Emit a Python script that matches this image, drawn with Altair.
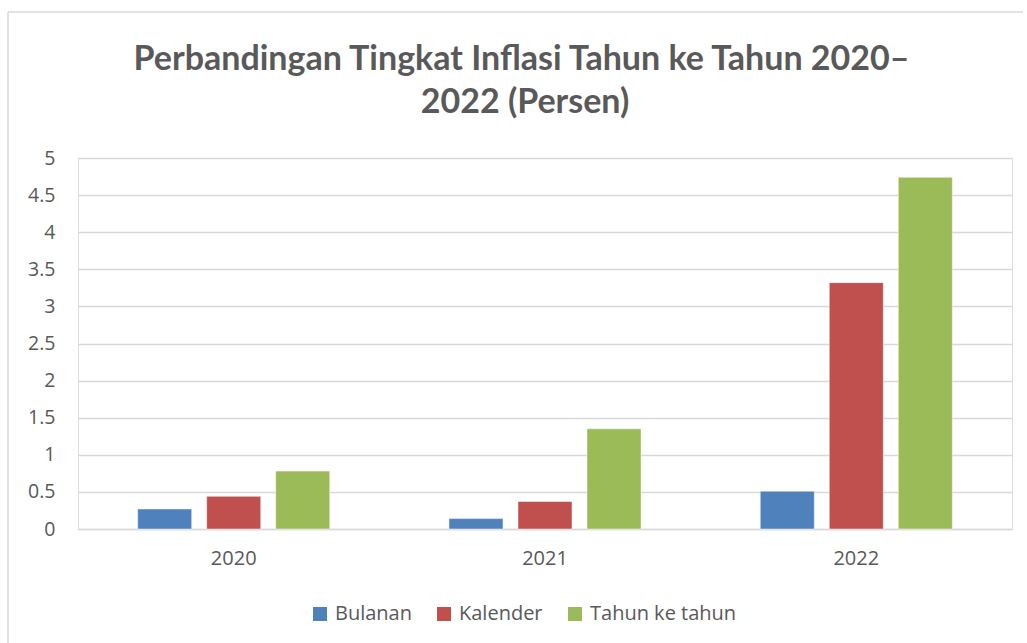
import altair as alt
import pandas as pd

years = ["2020", "2021", "2022"]
series = ["Bulanan", "Kalender", "Tahun ke tahun"]
bulanan = [0.27, 0.14, 0.51]
kalender = [0.44, 0.37, 3.32]
tahunan = [0.78, 1.35, 4.74]
colors = ["#4F81BD", "#C0504D", "#9BBB59"]
y_ticks = [0, 0.5, 1, 1.5, 2, 2.5, 3, 3.5, 4, 4.5, 5]
title_lines = ["Perbandingan Tingkat Inflasi Tahun ke Tahun 2020–", "2022 (Persen)"]

rows = []
for i, y in enumerate(years):
    for s, vals in zip(series, [bulanan, kalender, tahunan]):
        rows.append({"Tahun": y, "Seri": s, "Nilai": vals[i]})
df = pd.DataFrame(rows)

FONT = "Open Sans"
TFONT = "Lato"
GRAY = "#595959"
one = pd.DataFrame({"k": [0]})

bars = alt.Chart(df).mark_bar(stroke="white", strokeWidth=0.8, strokeOpacity=0.6).encode(
    x=alt.X("Tahun:N", sort=years, title=None,
            scale=alt.Scale(paddingInner=0.383, paddingOuter=0.1917),
            axis=alt.Axis(labelAngle=0, labelFontSize=20, labelColor=GRAY, labelFont=FONT,
                          labelPadding=19, ticks=False, domainColor="#D9D9D9", domainWidth=1.5)),
    xOffset=alt.XOffset("Seri:N", sort=series, scale=alt.Scale(paddingInner=0.217, paddingOuter=0)),
    y=alt.Y("Nilai:Q", title=None,
            scale=alt.Scale(domain=[0, 5], nice=False),
            axis=alt.Axis(values=y_ticks, labelExpr="datum.value", labelFontSize=19.5,
                          labelColor=GRAY, labelFont=FONT, labelPadding=23, ticks=False,
                          domain=False, gridColor="#D9D9D9", gridWidth=1.3)),
    color=alt.Color("Seri:N", sort=series, scale=alt.Scale(domain=series, range=colors),
                    legend=alt.Legend(title=None, orient="none", direction="horizontal",
                                      legendX=232, legendY=446, symbolType="square",
                                      symbolSize=196, symbolStrokeWidth=0, labelFontSize=20,
                                      labelColor=GRAY, labelFont=FONT, columnPadding=22,
                                      labelOffset=5)),
)

border = alt.Chart(one).mark_rule(color="#D9D9D9", strokeWidth=1.5).encode(
    x=alt.value(-70), x2=alt.value(-70), y=alt.value(-146), y2=alt.value(490)
)
border_top = alt.Chart(one).mark_rule(color="#D9D9D9", strokeWidth=1.5).encode(
    x=alt.value(-70), x2=alt.value(945), y=alt.value(-146), y2=alt.value(-146)
)
title1 = alt.Chart(one).mark_text(font=TFONT, fontSize=34, fontWeight="bold", color=GRAY,
                                  align="center", baseline="alphabetic").encode(
    x=alt.value(443.5), y=alt.value(-88), text=alt.value(title_lines[0])
)
title2 = alt.Chart(one).mark_text(font=TFONT, fontSize=34, fontWeight="bold", color=GRAY,
                                  align="center", baseline="alphabetic").encode(
    x=alt.value(447), y=alt.value(-45), text=alt.value(title_lines[1])
)

chart = alt.layer(border, border_top, title1, title2, bars).properties(
    width=934, height=371,
    padding={"left": 78, "top": 158, "right": 15, "bottom": 114},
    autosize=alt.AutoSizeParams(type="none"),
).configure_view(stroke=None).configure(background="white")

chart.save("out.html", embed_options={"renderer": "svg", "actions": False})
